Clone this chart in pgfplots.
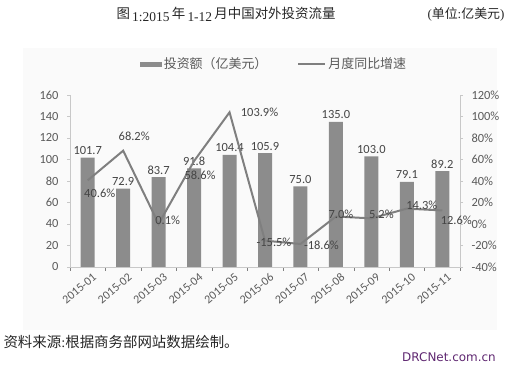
\documentclass[border=0pt]{standalone}
\usepackage{pgfplots}
\pgfplotsset{compat=1.18}
\usepackage{pgfplotstable}
\usepackage{fontspec}
\setmainfont{Carlito}
\newfontfamily\cjk{Noto Sans CJK SC}
\newfontfamily\ser{Liberation Serif}
\newfontfamily\dvs{DejaVu Sans}
\definecolor{barc}{HTML}{8C8C8C}
\definecolor{linec}{HTML}{7F7F7F}
\definecolor{tickc}{HTML}{5A5A5A}
\definecolor{labc}{HTML}{454545}
\definecolor{axc}{HTML}{C8C8C8}
\definecolor{drc}{HTML}{5E2670}
\pgfkeys{/pgf/number format/assume math mode=true}

\pgfplotstableread{
x val
0 101.7
1 72.9
2 83.7
3 91.8
4 104.4
5 105.9
6 75.0
7 135.0
8 103.0
9 79.1
10 89.2
}\bars

\pgfplotstableread{
x g dx dy
0 40.6 12 -13
1 68.2 11 14
2 0.1 9 4
3 58.6 6 -14
4 103.9 30 0
5 -15.5 9 -2
6 -18.6 21 -1
7 7.0 5 2
8 5.2 10 4
9 14.3 15 3
10 12.6 14 -10
}\growth

\begin{document}
\begin{tikzpicture}
\useasboundingbox (0,0) rectangle (523bp,368bp);
\fill[gray!4] (23bp,38bp) rectangle (497bp,320bp);
\node[font=\fontsize{13.5}{15}\selectfont, text=black!85] at (226bp,354bp)
  {{\cjk 图}\,\raisebox{-3bp}{\ser 1:2015}\,{\cjk 年}\,\raisebox{-3bp}{\ser 1-12}\,{\cjk 月中国对外投资流量}};
\node[font=\fontsize{13}{15}\selectfont, text=black!85] at (466bp,354bp)
  {{\ser (}{\cjk 单位}{\ser :}{\cjk 亿美元}{\ser )}};
\node[anchor=west, font=\fontsize{14.5}{16}\selectfont, text=black!85] at (0bp,26bp)
  {{\cjk 资料来源}{\ser :}{\cjk 根据商务部网站数据绘制。}};
\node[font=\fontsize{12}{14}\selectfont, text=drc] at (449bp,11bp) {\dvs DRCNet.com.cn};

\begin{axis}[
  at={(70bp,101bp)}, anchor=south west,
  scale only axis, width=390bp, height=172bp,
  xmin=-0.5, xmax=10.5, ymin=0, ymax=160,
  axis x line*=bottom, axis y line*=left,
  axis line style={draw=axc},
  xtick={0,...,10},
  xticklabels={2015-01,2015-02,2015-03,2015-04,2015-05,2015-06,2015-07,2015-08,2015-09,2015-10,2015-11},
  major x tick style={draw=none},
  minor xtick={-0.5,0.5,...,10.5},
  minor tick length=4bp,
  tick align=outside,
  ytick={0,20,...,160},
  major y tick style={draw=axc}, major tick length=3bp,
  tick label style={font=\fontsize{12.5}{14}\selectfont, text=tickc},
  xticklabel style={rotate=40, anchor=east, yshift=-9bp, xshift=5bp, font=\fontsize{12}{13}\selectfont},
  yticklabel style={xshift=-5bp},
  legend style={at={(0.523,1.18)}, anchor=center, draw=none, fill=none,
    legend columns=2, font=\fontsize{13}{14}\selectfont\cjk, text=tickc,
    /tikz/every even column/.append style={column sep=28bp}},
  legend image code/.code={},
]
\addplot[ybar, bar width=14bp, fill=barc, draw=none,
  nodes near coords={\pgfmathprintnumber[fixed,fixed zerofill,precision=1]{\pgfplotspointmeta}},
  every node near coord/.append style={anchor=center, yshift=7bp, font=\fontsize{12.5}{14}\selectfont, text=labc},
  legend image code/.code={\fill[barc] (0bp,-2.5bp) rectangle (22bp,2.5bp);}]
  table[x=x,y=val]{\bars};
\addlegendentry{投资额（亿美元）}
\addlegendimage{legend image code/.code={\draw[linec, line width=2pt] (0bp,0bp) -- (27bp,0bp);}}
\addlegendentry{月度同比增速}
\end{axis}

\begin{axis}[
  at={(70bp,101bp)}, anchor=south west,
  scale only axis, width=390bp, height=172bp,
  xmin=-0.5, xmax=10.5, ymin=-40, ymax=120,
  axis x line=none, axis y line*=right,
  axis line style={draw=axc},
  ytick={-40,-20,...,120},
  yticklabel={\pgfmathprintnumber{\tick}\%},
  major y tick style={draw=axc}, major tick length=3bp, tick align=outside,
  tick label style={font=\fontsize{12.5}{14}\selectfont, text=tickc},
  yticklabel style={xshift=5bp},
]
\addplot[linec, line width=2pt, mark=none,
  point meta=explicit,
  visualization depends on={\thisrow{dx} \as \dx},
  visualization depends on={\thisrow{dy} \as \dy},
  nodes near coords={\pgfmathprintnumber[fixed,fixed zerofill,precision=1]{\pgfplotspointmeta}\%},
  every node near coord/.append style={anchor=center, xshift=\dx*1bp, yshift=\dy*1bp, font=\fontsize{12.5}{14}\selectfont, text=labc}]
  table[x=x,y=g,meta=g]{\growth};
\end{axis}
\end{tikzpicture}
\end{document}
